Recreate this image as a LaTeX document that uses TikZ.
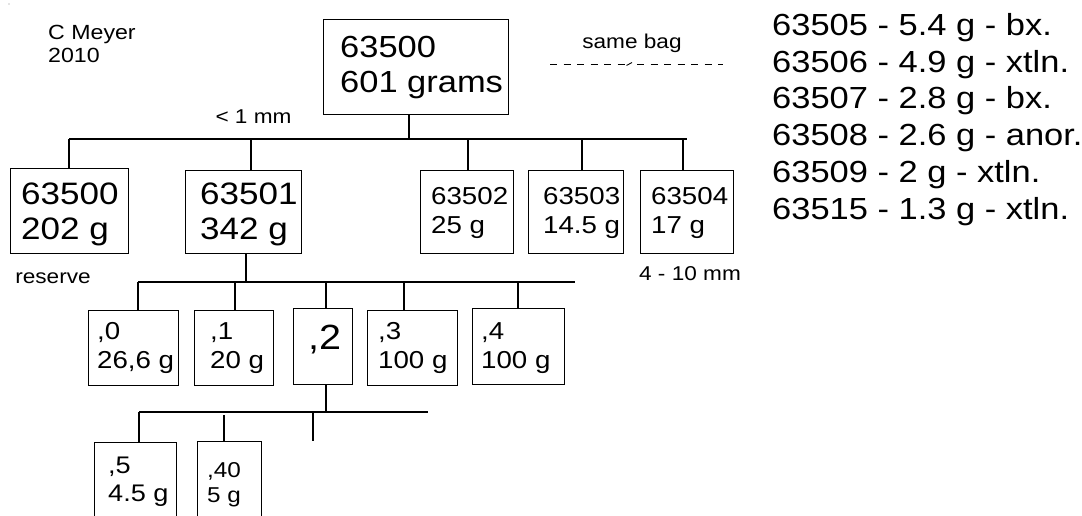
\documentclass[tikz,border=0pt]{standalone}
\usepackage{fontspec}
\setmainfont{Liberation Sans}[FakeStretch=1.13]
\begin{document}
\begin{tikzpicture}[x=1pt,y=-1pt,
  box/.style={draw, line width=1.3pt, inner sep=0pt, anchor=north west},
  lbl/.style={anchor=north west, inner sep=0pt, align=left},
  wire/.style={line width=1.3pt},
  fsmall/.style={font=\fontsize{20}{23}\selectfont},
  fbig/.style={font=\fontsize{31}{35}\selectfont},
  fmid/.style={font=\fontsize{24.5}{29}\selectfont},
  flist/.style={font=\fontsize{30.5}{36.8}\selectfont},
]
\clip (0,0) rectangle (1082,515);
\fill[white] (0,0) rectangle (1082,515);
\fill[black!45] (9,4) circle (0.6);

% author note and side list
\node[lbl, font=\fontsize{20.5}{23}\selectfont] (author) at (48,25) {C Meyer\\2010};
\node[lbl, flist] (list) at (772,13) {63505 - 5.4 g - bx.\\63506 - 4.9 g - xtln.\\63507 - 2.8 g - bx.\\63508 - 2.6 g - anor.\\63509 - 2 g - xtln.\\63515 - 1.3 g - xtln.};

% "same bag" marker
\node[fsmall, anchor=base, inner sep=0pt] (bag) at (632,48) {same bag};
\draw[line width=0.9pt, dash pattern=on 7pt off 6.5pt] (550,64) -- (626,64);
\draw[line width=0.9pt] (626.5,65.5) -- (632,62.5);
\draw[line width=0.9pt, dash pattern=on 7pt off 6.5pt] (637,64) -- (723,64);

% root sample
\node[box, minimum width=185pt, minimum height=95pt] (top) at (323,19) {};
\node[lbl, font=\fontsize{30.5}{35}\selectfont] (t-top) at (340,36) {63500\\601 grams};

% first split
\node[box, minimum width=118pt, minimum height=85pt] (r0) at (10,168) {};
\node[lbl, fbig] (t-r0) at (21,183) {63500\\202 g};
\node[box, minimum width=116pt, minimum height=83pt] (r1) at (185,170) {};
\node[lbl, fbig] (t-r1) at (200,183) {63501\\342 g};
\node[box, minimum width=93pt, minimum height=83pt] (c2) at (420,170) {};
\node[lbl, fmid] (t-c2) at (431,187) {63502\\25 g};
\node[box, minimum width=95pt, minimum height=83pt] (c3) at (528,170) {};
\node[lbl, fmid] (t-c3) at (543,187) {63503\\14.5 g};
\node[box, minimum width=93pt, minimum height=83pt] (c4) at (640,170) {};
\node[lbl, fmid] (t-c4) at (651,187) {63504\\17 g};

\node[fsmall, anchor=base, inner sep=0pt] (fine) at (253.5,123) {< 1 mm};
\node[fsmall, anchor=base, inner sep=0pt] (reserve) at (53,283) {reserve};
\node[fsmall, anchor=base, inner sep=0pt] (coarse) at (690,280) {4 - 10 mm};

% bus below the root
\coordinate (j0) at (409,139);
\coordinate (j1) at (69,139);
\coordinate (j2) at (251,139);
\coordinate (j3) at (468,139);
\coordinate (j4) at (582,139);
\coordinate (j5) at (683,139);
\coordinate (jE) at (687,139);
\draw[wire] (j0 |- top.south) -- (j0);
\draw[wire] (j1) -- (jE);
\draw[wire] (j1) -- (j1 |- r0.north);
\draw[wire] (j2) -- (j2 |- r1.north);
\draw[wire] (j3) -- (j3 |- c2.north);
\draw[wire] (j4) -- (j4 |- c3.north);
\draw[wire] (j5) -- (j5 |- c4.north);

% second split of 63501
\node[box, minimum width=90pt, minimum height=75pt] (g0) at (88,310) {};
\node[lbl, fmid] (t-g0) at (97,322) {,0\\26,6 g};
\node[box, minimum width=79pt, minimum height=75pt] (g1) at (194,310) {};
\node[lbl, fmid] (t-g1) at (210,322) {,1\\20 g};
\node[box, minimum width=59pt, minimum height=76pt] (g2) at (293,308) {};
\node[lbl, font=\fontsize{35}{35}\selectfont] (t-g2) at (308,325) {,2};
\node[box, minimum width=90pt, minimum height=75pt] (g3) at (367,310) {};
\node[lbl, fmid] (t-g3) at (378,322) {,3\\100 g};
\node[box, minimum width=92pt, minimum height=76pt] (g4) at (472,308) {};
\node[lbl, fmid] (t-g4) at (481,322) {,4\\100 g};

\coordinate (k0) at (246,282);
\coordinate (k1) at (138,282);
\coordinate (k2) at (235,282);
\coordinate (k3) at (326,282);
\coordinate (k4) at (404,282);
\coordinate (k5) at (518,282);
\coordinate (k6) at (575,282);
\draw[wire] (k0 |- r1.south) -- (k0);
\draw[wire] (k1) -- (k6);
\draw[wire] (k1) -- (k1 |- g0.north);
\draw[wire] (k2) -- (k2 |- g1.north);
\draw[wire] (k3) -- (k3 |- g2.north);
\draw[wire] (k4) -- (k4 |- g3.north);
\draw[wire] (k5) -- (k5 |- g4.north);

% third split of ,2
\node[box, minimum width=82pt, minimum height=100pt] (g5) at (94,442) {};
\node[lbl, font=\fontsize{24}{28}\selectfont] (t-g5) at (108,457) {,5\\4.5 g};
\node[box, minimum width=64pt, minimum height=100pt] (g6) at (197,441) {};
\node[lbl, font=\fontsize{21.5}{25.5}\selectfont] (t-g6) at (207,462) {,40\\5 g};

\coordinate (m0) at (326,412);
\coordinate (m1) at (139,412);
\coordinate (m2) at (224,415);
\coordinate (m3) at (313,412);
\coordinate (m4) at (428,412);
\coordinate (m5) at (313,441);
\draw[wire] (m0 |- g2.south) -- (m0);
\draw[wire] (m1) -- (m4);
\draw[wire] (m1) -- (m1 |- g5.north);
\draw[wire] (m2) -- (m2 |- g6.north);
\draw[wire] (m3) -- (m5);
\end{tikzpicture}
\end{document}
